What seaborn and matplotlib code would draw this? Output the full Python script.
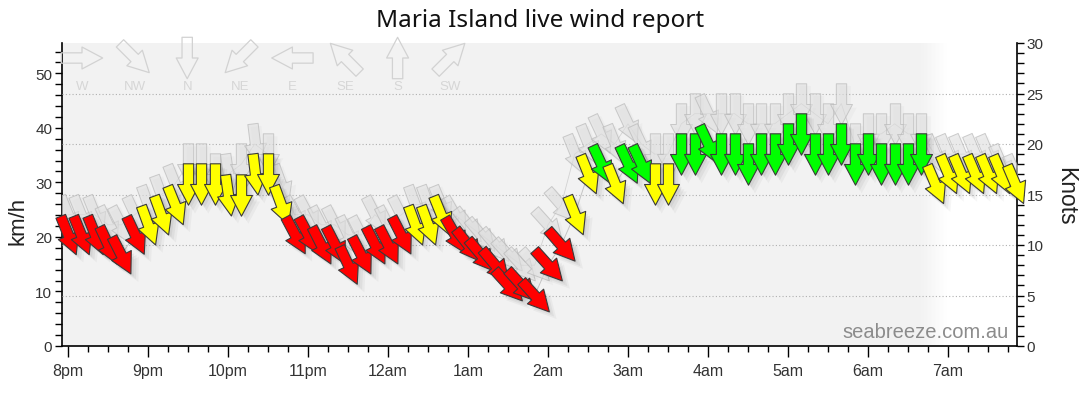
import numpy as np
import pandas as pd
import matplotlib
matplotlib.use("Agg")
import matplotlib.pyplot as plt
from matplotlib.markers import MarkerStyle
from matplotlib.path import Path
from matplotlib.transforms import Affine2D, ScaledTranslation
from matplotlib.ticker import MultipleLocator, FixedLocator
import seaborn as sns

# ---------------- data ----------------
start_time = "2024-03-01 20:00"
interval = "10min"

avg_kn = [11, 11, 11, 10, 9, 11, 12, 13, 14, 16,
          16, 16, 15, 15, 17, 17, 14, 11, 11, 10,
          10, 8, 9, 10, 10, 11, 12, 12, 13, 11,
          10, 9, 8, 6, 6, 5, 8, 10, 13, 17,
          18, 16, 18, 18, 16, 16, 19, 19, 20, 19,
          19, 18, 19, 19, 20, 21, 19, 19, 20, 18,
          19, 18, 18, 18, 19, 16, 17, 17, 17, 17,
          17, 16]
gust_kn = [13, 13, 13, 12, 12, 13, 14, 15, 16, 18,
           18, 17, 17, 18, 20, 19, 16, 13, 13, 12,
           12, 11, 11, 13, 12, 13, 14, 14, 14, 13,
           12, 11, 10, 9, 8, 8, 12, 14, 19, 20,
           21, 20, 22, 20, 19, 19, 22, 23, 23, 23,
           23, 22, 22, 22, 23, 24, 23, 22, 24, 20,
           21, 21, 22, 21, 21, 19, 19, 19, 19, 19,
           18, 17]
dir_deg = [338, 338, 338, 335, 333, 335, 340, 340, 338, 0,
           0, 0, 352, 0, 353, 0, 340, 332, 332, 333,
           333, 335, 333, 333, 333, 333, 340, 340, 338, 330,
           322, 320, 320, 318, 318, 318, 318, 319, 338, 338,
           335, 338, 335, 335, 0, 0, 0, 0, 335, 0,
           0, 0, 0, 0, 0, 0, 0, 0, 0, 0,
           0, 0, 0, 0, 0, 337, 337, 337, 337, 337,
           337, 337]

hour_labels = ["8pm", "9pm", "10pm", "11pm", "12am", "1am",
               "2am", "3am", "4am", "5am", "6am", "7am"]
compass_labels = ["W", "NW", "N", "NE", "E", "SE", "S", "SW"]
compass_deg = [270, 315, 0, 45, 90, 135, 180, 225]
speed_breaks_kn = [12, 18]
speed_colors = ["#ff0000", "#ffff00", "#00ff00"]
kmh_per_knot = 1.852
sunrise = "2024-03-02 06:49"

times = pd.date_range(start_time, periods=len(avg_kn), freq=interval)
df = pd.DataFrame({"time": times, "avg": avg_kn, "gust": gust_kn, "dir": dir_deg})

# ---------------- style ----------------
sns.set_style("white")
plt.rcParams["font.family"] = ["Liberation Sans", "DejaVu Sans"]

W, H, DPI = 1080, 414, 100
fig = plt.figure(figsize=(W / DPI, H / DPI), dpi=DPI)
fig.patch.set_facecolor("white")
ax = fig.add_axes([62 / W, 1 - 347 / H, (1017 - 62) / W, (347 - 44) / H])
ax.set_facecolor("white")

t0 = pd.Timestamp(start_time)
ax.set_xlim(t0 - pd.Timedelta(minutes=4.5), t0 + pd.Timedelta(minutes=711.75))
ax.set_ylim(0, 30)

# night band with soft edge
sr = pd.Timestamp(sunrise)
ax.axvspan(t0 - pd.Timedelta(hours=1), sr - pd.Timedelta(minutes=10),
           color="#f2f2f2", lw=0, zorder=0)
nsteps = 20
for i in range(nsteps):
    a = pd.Timestamp(sr - pd.Timedelta(minutes=10) + pd.Timedelta(minutes=20 * i / nsteps))
    b = pd.Timestamp(sr - pd.Timedelta(minutes=10) + pd.Timedelta(minutes=20 * (i + 1) / nsteps))
    ax.axvspan(a, b, color="#f2f2f2", alpha=1 - (i + 0.5) / nsteps, lw=0, zorder=0)

# grid (knots)
for g in range(5, 30, 5):
    ax.axhline(g, color="#b0b0b0", lw=0.8, ls=(0, (1, 2)), zorder=1)

# faint series lines
sns.lineplot(data=df, x="time", y="gust", ax=ax, color="#d2d2d2", linewidth=0.6, zorder=2)
sns.lineplot(data=df, x="time", y="avg", ax=ax, color="#c4c4c4", linewidth=0.7, zorder=2)


def arrow_marker(bearing):
    verts = [(-0.125, 0.5), (0.125, 0.5), (0.125, 0.0), (0.265, 0.0),
             (0.0, -0.5), (-0.265, 0.0), (-0.125, 0.0), (-0.125, 0.5)]
    codes = [Path.MOVETO] + [Path.LINETO] * 6 + [Path.CLOSEPOLY]
    return MarkerStyle(Path(verts, codes), transform=Affine2D().rotate_deg(-bearing))


ARROW_S = 29.8 ** 2


def colour_for(v):
    if v < speed_breaks_kn[0]:
        return speed_colors[0]
    if v < speed_breaks_kn[1]:
        return speed_colors[1]
    return speed_colors[2]


def shadow_tf(dx, dy):
    return ax.transData + ScaledTranslation(dx / DPI, -dy / DPI, fig.dpi_scale_trans)


# gust arrows (grey)
for t, g, d in zip(df["time"], df["gust"], df["dir"]):
    m = arrow_marker(d)
    ax.scatter([t], [g], marker=m, s=ARROW_S * 1.1, facecolor=(0, 0, 0, 0.025),
               edgecolor="none", transform=shadow_tf(4, 4), zorder=3)
    ax.scatter([t], [g], marker=m, s=ARROW_S, facecolor=(0.88, 0.88, 0.88, 0.6),
               edgecolor=(0.72, 0.72, 0.72, 0.7), linewidths=0.7, zorder=3)

# shadows of average arrows
for t, v, d in zip(df["time"], df["avg"], df["dir"]):
    m = arrow_marker(d)
    for off, sc, al in [(3, 1.0, 0.05), (5, 1.08, 0.045), (7, 1.16, 0.035)]:
        ax.scatter([t], [v], marker=m, s=ARROW_S * sc, facecolor=(0, 0, 0, al),
                   edgecolor="none", transform=shadow_tf(off, off), zorder=4)

# average arrows (coloured)
for t, v, d in zip(df["time"], df["avg"], df["dir"]):
    ax.scatter([t], [v], marker=arrow_marker(d), s=ARROW_S, facecolor=colour_for(v),
               edgecolor="#3a3a3a", linewidths=0.8, zorder=5, clip_on=False)

# compass legend
cx0, cdx = 82, 52.6
for i, (lab, deg) in enumerate(zip(compass_labels, compass_deg)):
    xf = (cx0 + i * cdx - 62) / (1017 - 62)
    ax.scatter([xf], [(347 - 59) / 303], marker=arrow_marker(deg), s=ARROW_S,
               facecolor="none", edgecolor="#d2d2d2", linewidths=0.9,
               transform=ax.transAxes, clip_on=False, zorder=2)
    ax.text(xf, (347 - 87) / 303, lab, transform=ax.transAxes, ha="center",
            va="center", fontsize=9.5, color="#d6d6d6", zorder=2)

# axes / ticks
ax.set_xticks(pd.date_range(start_time, periods=len(hour_labels), freq="h"))
ax.set_xticklabels(hour_labels)
minor_ticks = [t for t in pd.date_range(start_time, periods=48, freq="15min") if t.minute != 0]
ax.xaxis.set_minor_locator(FixedLocator(matplotlib.dates.date2num(minor_ticks)))
ax.set_xlabel("")
ax.set_ylabel("")

ax.yaxis.tick_right()
ax.set_yticks(range(0, 31, 5))
ax.yaxis.set_minor_locator(MultipleLocator(1))

ax.tick_params(axis="x", which="major", length=8, width=1, color="black",
               labelsize=11.5, labelcolor="#333333", pad=4, direction="out", bottom=True)
ax.tick_params(axis="x", which="minor", length=4, width=1, color="black", bottom=True,
               direction="out")
ax.tick_params(axis="y", which="major", length=5, width=1, color="black",
               labelsize=11, labelcolor="#333333", pad=2, right=True, left=False,
               direction="out")
ax.tick_params(axis="y", which="minor", length=5, width=1, color="black",
               right=True, left=False, direction="out")

for s in ["top", "left"]:
    ax.spines[s].set_visible(False)
for s in ["right", "bottom"]:
    ax.spines[s].set_visible(True)
    ax.spines[s].set_color("black")
    ax.spines[s].set_linewidth(1.2)

sec = ax.secondary_yaxis("left", functions=(lambda k: k * kmh_per_knot,
                                            lambda v: v / kmh_per_knot))
sec.set_yticks(range(0, 51, 10))
sec.yaxis.set_minor_locator(MultipleLocator(2))
sec.tick_params(axis="y", which="major", length=5, width=1, color="black",
                labelsize=11, labelcolor="#333333", pad=2)
sec.tick_params(axis="y", which="minor", length=5, width=1, color="black")
sec.spines["left"].set_color("black")
sec.spines["left"].set_linewidth(1.2)

# texts
fig.text(540 / W, 1 - 21 / H, "Maria Island live wind report", ha="center",
         va="center", fontsize=17.5, color="#111111", family=["Noto Sans", "DejaVu Sans"])
fig.text(18 / W, 1 - 221 / H, "km/h", rotation=90, ha="center", va="center",
         fontsize=16, color="#222222")
fig.text(1066 / W, 1 - 196 / H, "Knots", rotation=270, ha="center", va="center",
         fontsize=16.5, color="#222222")
ax.text((1009 - 62) / (1017 - 62), (347 - 338) / 303, "seabreeze.com.au",
        transform=ax.transAxes, ha="right", va="baseline", fontsize=14.5,
        color="#8c8c8c", zorder=6)

fig.savefig("out.png", dpi=DPI)
